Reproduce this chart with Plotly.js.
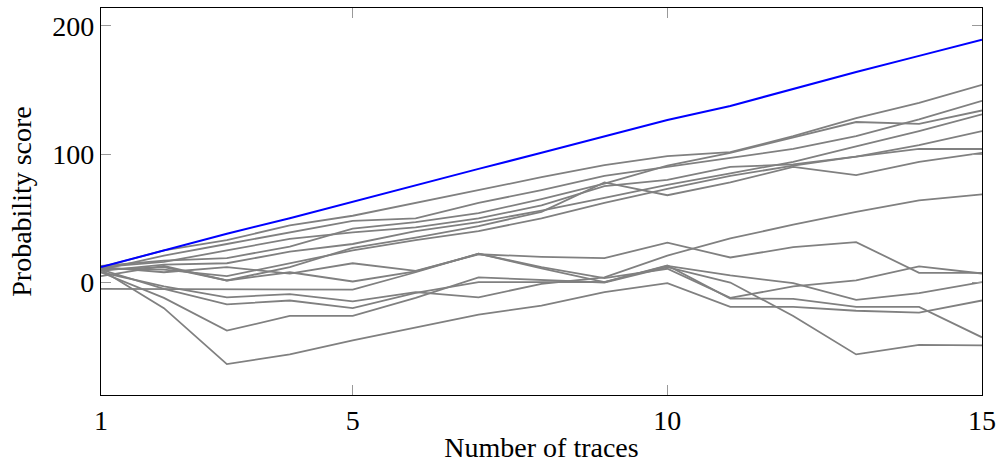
<!DOCTYPE html>
<html>
<head>
<meta charset="utf-8">
<script src="https://cdn.plot.ly/plotly-3.0.1.min.js"></script>
<style>html,body{margin:0;padding:0;background:#fff;}#chart{width:997px;height:463px;}</style>
</head>
<body>
<div id="chart"></div>
<script>
const traces = [1, 2, 3, 4, 5, 6, 7, 8, 9, 10, 11, 12, 13, 14, 15];
const correctKey = [12, 25, 38, 50, 63, 76, 88.5, 101, 114, 126.5, 137.5, 151, 164, 176.5, 189];

const wrongKey01 = [12, 25, 33, 44.5, 52, 62, 72, 82, 91.4, 98.4, 101.5, 114, 128, 140, 154];
const wrongKey02 = [10, 21, 30, 39, 48, 50, 62, 72, 83, 90, 97, 104, 114, 127, 141.5];
const wrongKey03 = [13, 17, 19, 28, 42, 47, 54, 65, 77, 91, 101, 113, 125, 123.5, 134];
const wrongKey04 = [9, 14, 15, 24, 30, 40, 47, 56, 66, 76, 85, 94, 106, 118, 131];
const wrongKey05 = [11, 10, 5, 15, 25, 33, 40, 50, 62, 73, 83, 91, 98, 107, 118];
const wrongKey06 = [12, 16, 25, 34, 39, 43, 50, 60, 75, 80, 90, 92, 98, 104, 104];
const wrongKey07 = [10, 12, 1.6, 12, 27, 35, 44, 55, 78, 68, 78, 90, 83.6, 94, 101];
const wrongKey08 = [8, -3, -11.5, -9, -14.6, -7.5, -11.5, -1, 4, 21, 34.4, 45, 55, 64, 68.7];
const wrongKey09 = [12, 8, 12, 7, 15, 9, 22, 20, 19, 31, 19.5, 27.5, 31.5, 7.5, 7.5];
const wrongKey10 = [-5, -5, -5, -5, -5.5, 8, 22.5, 11, 0.3, 13, 5.5, -0.5, -13.5, -8.3, 0.3];
const wrongKey11 = [5, 13, 1.6, 8, 0.8, 8.6, 22.4, 12, 3.5, 10.7, -12, -3, 1.6, 12.5, 7];
const wrongKey12 = [10, -5, -17, -14, -20, -8, 0.3, 0.5, 0.3, 13.3, -12.5, -12.7, -19, -19, -42.7];
const wrongKey13 = [8, -12, -37.5, -26, -26, -12, 4, 2, 0, 12, 0, -26, -56, -48.5, -49];
const wrongKey14 = [10, -20, -63.5, -56, -45, -35, -25, -18, -7.5, -0.5, -19, -19, -22, -23.5, -14];

const wrongKeys = [wrongKey01, wrongKey02, wrongKey03, wrongKey04, wrongKey05, wrongKey06, wrongKey07,
  wrongKey08, wrongKey09, wrongKey10, wrongKey11, wrongKey12, wrongKey13, wrongKey14];

const xTicks = [1, 5, 10, 15];
const yTicks = [0, 100, 200];

const data = wrongKeys.map(function (ys) {
  return {x: traces, y: ys, type: 'scatter', mode: 'lines',
    line: {color: '#808080', width: 1.8}, hoverinfo: 'skip', showlegend: false};
});
data.push({x: traces, y: correctKey, type: 'scatter', mode: 'lines',
  line: {color: '#0000ff', width: 2}, showlegend: false});

const font = {family: '"Liberation Serif", "DejaVu Serif", serif', size: 28, color: '#000'};

const layout = {
  width: 997, height: 463,
  margin: {l: 101, r: 15, t: 8, b: 67.5},
  paper_bgcolor: '#fff', plot_bgcolor: '#fff',
  font: font,
  xaxis: {
    range: [1, 15], tickvals: xTicks, ticktext: xTicks.map(String),
    ticks: 'inside', ticklen: 10, tickwidth: 1.2, tickcolor: '#999',
    showline: true, linecolor: '#000', linewidth: 1.2, mirror: 'ticks',
    showgrid: false, zeroline: false, automargin: false,
    tickfont: font,
    title: {text: 'Number of traces', font: font, standoff: 6}
  },
  yaxis: {
    range: [-87.6, 213.8], tickvals: yTicks, ticktext: yTicks.map(String),
    ticks: 'inside', ticklen: 10, tickwidth: 1.2, tickcolor: '#999',
    showline: true, linecolor: '#000', linewidth: 1.2, mirror: 'ticks',
    showgrid: false, zeroline: false, automargin: false,
    tickfont: font,
    title: {text: 'Probability score', font: font, standoff: 12}
  }
};

Plotly.newPlot('chart', data, layout, {displayModeBar: false, staticPlot: true});
</script>
</body>
</html>
